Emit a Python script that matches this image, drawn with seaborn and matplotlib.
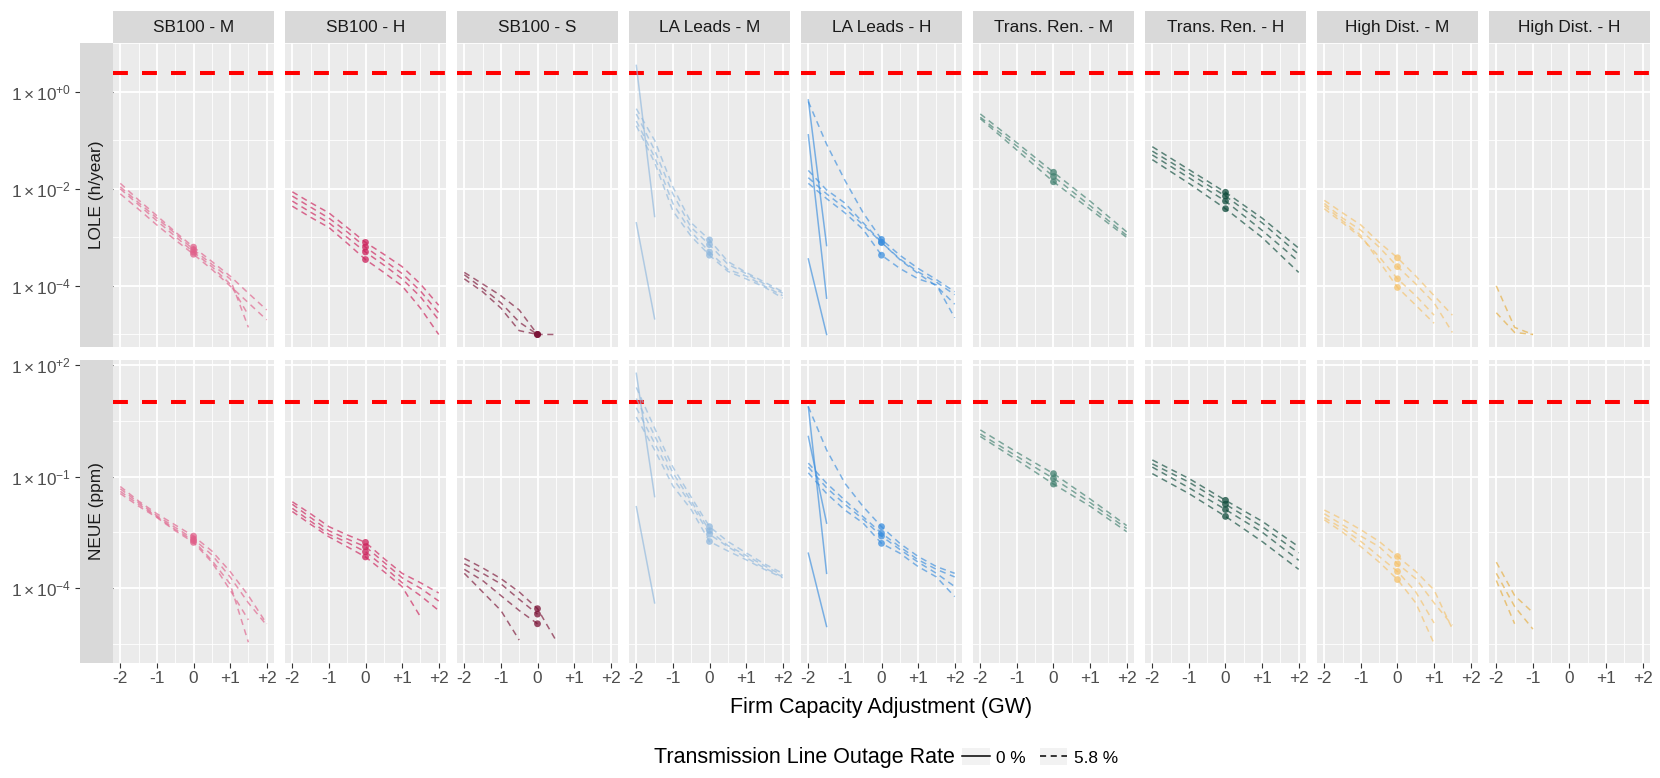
import numpy as np
import pandas as pd
import seaborn as sns
import matplotlib
matplotlib.use("Agg")
import matplotlib.pyplot as plt
from matplotlib.patches import Rectangle
from matplotlib.lines import Line2D
from matplotlib.legend_handler import HandlerLine2D
from matplotlib.ticker import NullFormatter

# facets
SCENARIOS = ["SB100 - M", "SB100 - H", "SB100 - S", "LA Leads - M", "LA Leads - H",
             "Trans. Ren. - M", "Trans. Ren. - H", "High Dist. - M", "High Dist. - H"]
COLORS = ["#e0608a", "#cc1f5a", "#7a1235", "#8fb8de", "#3b8ede",
          "#3f7f6e", "#0d4a3a", "#f5c26b", "#e6ac3c"]
METRICS = ["LOLE (h/year)", "NEUE (ppm)"]
THRESHOLDS = [2.4, 10]

# firm capacity adjustment steps (GW)
X_HALF = [-2, -1.5, -1, -0.5, 0, 0.5, 1, 1.5, 2]
X_UNIT = [-2, -1, 0, 1, 2]
X_EDGE = [-2, -1.5]

# ---- LOLE (h/year), 5.8 % outage rate ----
SB100_M_LOLE = [
    [1.3e-2, 5.9e-3, 2.8e-3, 1.3e-3, 6.3e-4, 3.2e-4, 1.6e-4, 7.1e-5, 3.2e-5],
    [1.0e-2, 4.7e-3, 2.2e-3, 1.05e-3, 5.0e-4, 2.5e-4, 1.1e-4, 2.5e-5, None],
    [1.1e-2, 5.2e-3, 2.5e-3, 1.2e-3, 5.6e-4, 2.8e-4, 1.4e-4, 1.4e-5, None],
    [7.9e-3, 3.8e-3, 1.8e-3, 8.9e-4, 4.5e-4, 2.2e-4, 1.0e-4, 4.5e-5, 2.0e-5],
]
SB100_H_LOLE = [
    [8.7e-3, 5.2e-3, 3.2e-3, 1.6e-3, 7.9e-4, 4.5e-4, 2.5e-4, 1.1e-4, 4.0e-5],
    [7.1e-3, 4.2e-3, 2.5e-3, 1.3e-3, 6.3e-4, 3.4e-4, 1.8e-4, 7.9e-5, 2.8e-5],
    [5.6e-3, 3.3e-3, 2.0e-3, 1.0e-3, 5.0e-4, 2.7e-4, 1.4e-4, 6.0e-5, 2.0e-5],
    [4.4e-3, 2.6e-3, 1.6e-3, 7.6e-4, 3.5e-4, 1.9e-4, 1.0e-4, 3.5e-5, 1.0e-5],
]
SB100_S_LOLE = [
    [1.9e-4, 1.1e-4, 6.3e-5, 3.2e-5, 1.0e-5, 1.0e-5, None, None, None],
    [1.7e-4, 8.9e-5, 4.5e-5, 1.8e-5, 1.0e-5, None, None, None, None],
    [1.4e-4, 7.6e-5, 3.5e-5, 1.2e-5, 1.0e-5, None, None, None, None],
]
LA_LEADS_M_LOLE = [
    [0.45, 0.10, 1.1e-2, 2.0e-3, 8.9e-4, 3.2e-4, 1.9e-4, 1.2e-4, 7.6e-5],
    [0.35, 6.3e-2, 7.9e-3, 1.6e-3, 7.1e-4, 2.8e-4, 1.8e-4, 1.1e-4, 7.1e-5],
    [0.25, 4.5e-2, 5.0e-3, 1.3e-3, 5.0e-4, 2.2e-4, 1.6e-4, 1.0e-4, 6.3e-5],
    [0.20, 3.5e-2, 3.5e-3, 1.05e-3, 4.3e-4, 2.0e-4, 1.4e-4, 9.5e-5, 5.6e-5],
]
LA_LEADS_H_LOLE = [
    [0.63, 8.3e-2, 1.5e-2, 3.2e-3, 9.1e-4, 4.3e-4, 2.3e-4, 1.35e-4, 7.6e-5],
    [2.4e-2, 9.5e-3, 5.1e-3, 2.0e-3, 7.9e-4, 3.6e-4, 1.95e-4, 1.2e-4, 6.6e-5],
    [1.7e-2, 7.9e-3, 4.0e-3, 1.8e-3, 7.9e-4, 3.5e-4, 1.8e-4, 1.0e-4, 4.2e-5],
    [1.3e-2, 6.3e-3, 3.2e-3, 1.45e-3, 4.3e-4, 2.3e-4, 1.4e-4, 1.05e-4, 2.2e-5],
]
TRANS_REN_M_LOLE = [
    [0.35, 8.9e-2, 2.2e-2, 5.6e-3, 1.3e-3],
    [0.30, 7.6e-2, 1.8e-2, 4.5e-3, 1.1e-3],
    [0.28, 6.3e-2, 1.4e-2, 3.8e-3, 1.0e-3],
]
TRANS_REN_H_LOLE = [
    [7.4e-2, 2.5e-2, 8.5e-3, 2.5e-3, 6.0e-4],
    [6.0e-2, 2.1e-2, 7.1e-3, 2.0e-3, 4.5e-4],
    [5.0e-2, 1.7e-2, 5.6e-3, 1.4e-3, 3.2e-4],
    [4.0e-2, 1.3e-2, 3.9e-3, 1.0e-3, 1.9e-4],
]
HIGH_DIST_M_LOLE = [
    [5.8e-3, 3.2e-3, 1.8e-3, 7.9e-4, 3.8e-4, 1.6e-4, 6.3e-5, 2.5e-5, None],
    [5.0e-3, 2.5e-3, 1.4e-3, 6.3e-4, 2.5e-4, 1.1e-4, 4.5e-5, 1.1e-5, None],
    [3.9e-3, 2.0e-3, 1.0e-3, 4.0e-4, 1.4e-4, 6.3e-5, 2.5e-5, None, None],
    [4.5e-3, 2.2e-3, 1.1e-3, 3.2e-4, 9.3e-5, 4.0e-5, 1.7e-5, None, None],
]
HIGH_DIST_H_LOLE = [
    [1.0e-4, 1.4e-5, 1.0e-5, None, None, None, None, None, None],
    [2.8e-5, 1.1e-5, 1.0e-5, None, None, None, None, None, None],
]

# ---- NEUE (ppm), 5.8 % outage rate ----
SB100_M_NEUE = [
    [5.4e-2, 2.2e-2, 1.0e-2, 5.0e-3, 2.5e-3, 1.0e-3, 2.8e-4, 6.3e-5, 1.1e-5],
    [4.7e-2, 2.0e-2, 8.9e-3, 4.3e-3, 2.1e-3, 7.9e-4, 2.0e-4, 4.0e-5, 1.0e-5],
    [4.0e-2, 1.8e-2, 8.3e-3, 3.8e-3, 1.9e-3, 5.6e-4, 1.3e-4, 3.5e-6, None],
    [3.5e-2, 1.6e-2, 7.9e-3, 3.5e-3, 1.7e-3, 5.0e-4, 8.9e-5, 1.4e-5, None],
]
SB100_H_NEUE = [
    [2.1e-2, 1.0e-2, 4.5e-3, 2.7e-3, 1.7e-3, 6.3e-4, 2.5e-4, 1.4e-4, 7.4e-5],
    [1.8e-2, 7.9e-3, 3.5e-3, 2.1e-3, 1.3e-3, 5.0e-4, 1.9e-4, 1.0e-4, 4.5e-5],
    [1.4e-2, 6.3e-3, 2.8e-3, 1.7e-3, 9.5e-4, 3.8e-4, 1.4e-4, 6.3e-5, 2.5e-5],
    [1.15e-2, 5.2e-3, 2.4e-3, 1.3e-3, 6.9e-4, 2.8e-4, 1.1e-4, 1.7e-5, None],
]
SB100_S_NEUE = [
    [6.3e-4, 3.5e-4, 1.8e-4, 7.9e-5, 2.8e-5, 4.0e-6, None, None, None],
    [4.5e-4, 2.5e-4, 1.3e-4, 5.0e-5, 2.0e-5, None, None, None, None],
    [3.2e-4, 1.6e-4, 6.3e-5, 2.5e-5, 1.1e-5, None, None, None, None],
    [2.5e-4, 7.9e-5, 2.5e-5, 4.0e-6, None, None, None, None, None],
]
LA_LEADS_M_NEUE = [
    [25, 2.0, 0.18, 2.8e-2, 4.5e-3, 1.8e-3, 8.9e-4, 4.5e-4, 2.5e-4],
    [12.6, 1.26, 0.126, 2.2e-2, 3.5e-3, 1.4e-3, 7.6e-4, 4.0e-4, 2.2e-4],
    [7.1, 0.79, 8.9e-2, 1.8e-2, 2.8e-3, 1.3e-3, 6.6e-4, 3.5e-4, 2.0e-4],
    [4.0, 0.52, 5.6e-2, 1.3e-2, 1.8e-3, 1.0e-3, 5.8e-4, 3.2e-4, 1.9e-4],
]
LA_LEADS_H_NEUE = [
    [7.6, 0.52, 6.6e-2, 1.55e-2, 4.5e-3, 1.6e-3, 7.1e-4, 3.8e-4, 2.5e-4],
    [0.18, 5.0e-2, 1.8e-2, 7.1e-3, 2.5e-3, 1.1e-3, 5.0e-4, 2.5e-4, 1.1e-4],
    [0.23, 6.6e-2, 2.3e-2, 8.3e-3, 3.0e-3, 1.3e-3, 5.8e-4, 3.2e-4, 2.0e-4],
    [0.126, 3.5e-2, 1.26e-2, 5.6e-3, 1.6e-3, 8.7e-4, 3.8e-4, 2.0e-4, 5.9e-5],
]
TRANS_REN_M_NEUE = [
    [1.8, 0.45, 0.12, 2.5e-2, 4.8e-3],
    [1.4, 0.35, 8.9e-2, 2.0e-2, 4.0e-3],
    [1.2, 0.28, 6.3e-2, 1.6e-2, 3.3e-3],
]
TRANS_REN_H_NEUE = [
    [0.28, 8.9e-2, 2.3e-2, 6.3e-3, 1.3e-3],
    [0.22, 7.1e-2, 1.8e-2, 4.5e-3, 8.9e-4],
    [0.18, 5.0e-2, 1.3e-2, 3.2e-3, 5.6e-4],
    [0.12, 3.5e-2, 8.5e-3, 1.8e-3, 3.2e-4],
]
HIGH_DIST_M_NEUE = [
    [1.26e-2, 7.1e-3, 3.7e-3, 1.8e-3, 7.1e-4, 2.8e-4, 8.9e-5, 7.9e-6, None],
    [1.0e-2, 5.0e-3, 2.5e-3, 1.3e-3, 4.5e-4, 1.8e-4, 4.0e-5, 1.0e-5, None],
    [7.9e-3, 4.0e-3, 1.8e-3, 7.1e-4, 2.8e-4, 7.9e-5, 1.15e-5, None, None],
    [6.9e-3, 3.2e-3, 1.3e-3, 5.0e-4, 1.7e-4, 4.0e-5, 3.2e-6, None, None],
]
HIGH_DIST_H_NEUE = [
    [5.0e-4, 6.3e-5, 2.2e-5, None, None, None, None, None, None],
    [2.5e-4, 3.2e-5, 7.9e-6, None, None, None, None, None, None],
    [1.6e-4, 1.1e-5, None, None, None, None, None, None, None],
]

# ---- 0 % outage rate (only LA Leads sweeps) ----
LA_LEADS_M_LOLE_0 = [[3.5, 2.7e-3], [2.0e-3, 2.1e-5]]
LA_LEADS_H_LOLE_0 = [[0.68, 6.8e-4], [0.13, 5.6e-5], [3.6e-4, 1.0e-5]]
LA_LEADS_M_NEUE_0 = [[60, 2.9e-2], [1.55e-2, 4.0e-5]]
LA_LEADS_H_NEUE_0 = [[7.6, 2.5e-4], [1.2, 5.6e-3], [8.7e-4, 9.3e-6]]

SWEEPS = [
    ("SB100 - M", 0, "5.8 %", X_HALF, SB100_M_LOLE), ("SB100 - M", 1, "5.8 %", X_HALF, SB100_M_NEUE),
    ("SB100 - H", 0, "5.8 %", X_HALF, SB100_H_LOLE), ("SB100 - H", 1, "5.8 %", X_HALF, SB100_H_NEUE),
    ("SB100 - S", 0, "5.8 %", X_HALF, SB100_S_LOLE), ("SB100 - S", 1, "5.8 %", X_HALF, SB100_S_NEUE),
    ("LA Leads - M", 0, "5.8 %", X_HALF, LA_LEADS_M_LOLE), ("LA Leads - M", 1, "5.8 %", X_HALF, LA_LEADS_M_NEUE),
    ("LA Leads - H", 0, "5.8 %", X_HALF, LA_LEADS_H_LOLE), ("LA Leads - H", 1, "5.8 %", X_HALF, LA_LEADS_H_NEUE),
    ("Trans. Ren. - M", 0, "5.8 %", X_UNIT, TRANS_REN_M_LOLE), ("Trans. Ren. - M", 1, "5.8 %", X_UNIT, TRANS_REN_M_NEUE),
    ("Trans. Ren. - H", 0, "5.8 %", X_UNIT, TRANS_REN_H_LOLE), ("Trans. Ren. - H", 1, "5.8 %", X_UNIT, TRANS_REN_H_NEUE),
    ("High Dist. - M", 0, "5.8 %", X_HALF, HIGH_DIST_M_LOLE), ("High Dist. - M", 1, "5.8 %", X_HALF, HIGH_DIST_M_NEUE),
    ("High Dist. - H", 0, "5.8 %", X_HALF, HIGH_DIST_H_LOLE), ("High Dist. - H", 1, "5.8 %", X_HALF, HIGH_DIST_H_NEUE),
    ("LA Leads - M", 0, "0 %", X_EDGE, LA_LEADS_M_LOLE_0), ("LA Leads - M", 1, "0 %", X_EDGE, LA_LEADS_M_NEUE_0),
    ("LA Leads - H", 0, "0 %", X_EDGE, LA_LEADS_H_LOLE_0), ("LA Leads - H", 1, "0 %", X_EDGE, LA_LEADS_H_NEUE_0),
]

rows = []
for scen, m, rate, xs, lines in SWEEPS:
    for i, vals in enumerate(lines):
        for x, v in zip(xs, vals):
            if v is not None:
                rows.append(dict(scenario=scen, metric=m, outage=rate, line=f"{rate}-{i}", gw=x, value=v))
df = pd.DataFrame(rows)

# plotting parameters
plt.rcParams["font.family"] = ["Liberation Sans", "DejaVu Sans"]
plt.rcParams["mathtext.fontset"] = "custom"
plt.rcParams["mathtext.rm"] = "Liberation Sans"
plt.rcParams["mathtext.it"] = "Liberation Sans:italic"

W, H = 1660, 778
fig, axes = plt.subplots(2, 9, figsize=(W / 100, H / 100), dpi=100)
fig.subplots_adjust(left=113 / W, right=1650 / W, top=1 - 43.3 / H, bottom=1 - 663.3 / H,
                    wspace=0.0683, hspace=0.041)

YLIMS = [(5.5e-6, 7.6), (9.5e-7, 141)]
YMAJOR = [[1, 1e-2, 1e-4], [1e2, 1e-1, 1e-4]]
YMINOR = [[10, 1e-1, 1e-3, 1e-5], [10 ** 0.5, 10 ** -2.5, 10 ** -5.5]]
YLABELS = [[r"$\mathregular{1\times10^{+0}}$", r"$\mathregular{1\times10^{-2}}$", r"$\mathregular{1\times10^{-4}}$"],
           [r"$\mathregular{1\times10^{+2}}$", r"$\mathregular{1\times10^{-1}}$", r"$\mathregular{1\times10^{-4}}$"]]
STRIP_BG = "#d9d9d9"

for r in range(2):
    for c, scen in enumerate(SCENARIOS):
        ax = axes[r, c]
        ax.set_facecolor("#ebebeb")
        ax.set_axisbelow(True)
        ax.set_yscale("log")
        sub = df[(df.scenario == scen) & (df.metric == r)]
        ax.axhline(THRESHOLDS[r], color="#ff0000", lw=2.9, ls=(0, (3.7, 3.5)), zorder=1.5)
        sns.lineplot(data=sub, x="gw", y="value", units="line", estimator=None, style="outage",
                     dashes={"0 %": "", "5.8 %": (4, 3)}, color=COLORS[c], alpha=0.65, lw=1.1,
                     legend=False, ax=ax)
        pts = sub[sub.gw == 0]
        if len(pts):
            sns.scatterplot(data=pts, x="gw", y="value", color=COLORS[c], s=24, alpha=0.75,
                            edgecolor="none", legend=False, ax=ax)
        ax.set_xlim(-2.2, 2.2)
        ax.set_ylim(*YLIMS[r])
        ax.set_xticks([-2, -1, 0, 1, 2])
        ax.set_xticks([-1.5, -0.5, 0.5, 1.5], minor=True)
        ax.set_yticks(YMAJOR[r])
        ax.set_yticks(YMINOR[r], minor=True)
        ax.yaxis.set_minor_formatter(NullFormatter())
        ax.grid(which="major", color="white", lw=1.3)
        ax.grid(which="minor", color="white", lw=0.6)
        for s in ax.spines.values():
            s.set_visible(False)
        ax.set_xlabel("")
        ax.set_ylabel("")
        ax.tick_params(which="minor", length=0)
        if r == 1:
            ax.set_xticklabels(["-2", "-1", "0", "+1", "+2"])
            ax.tick_params(axis="x", which="major", length=3.5, width=0.8, color="#333333",
                           labelsize=12.4, labelcolor="#4d4d4d", pad=2)
        else:
            ax.tick_params(axis="x", which="major", length=0, labelbottom=False)
        ph = ax.bbox.height
        pw = ax.bbox.width
        if c == 0:
            ax.set_yticklabels(YLABELS[r])
            ax.tick_params(axis="y", which="major", length=27.5, width=0.8, color="#333333",
                           labelsize=12.4, labelcolor="#4d4d4d", pad=2.5)
            sw = 33.5 / pw
            ax.add_patch(Rectangle((-sw, 0), sw, 1, transform=ax.transAxes, facecolor=STRIP_BG,
                                   edgecolor="none", clip_on=False, zorder=5))
            ax.text(-sw / 2, 0.5, METRICS[r], transform=ax.transAxes, rotation=90, ha="center",
                    va="center", fontsize=12.4, color="#1a1a1a", zorder=6)
        else:
            ax.tick_params(axis="y", which="major", length=0, labelleft=False)
        if r == 0:
            sh = 32 / ph
            ax.add_patch(Rectangle((0, 1), 1, sh, transform=ax.transAxes, facecolor=STRIP_BG,
                                   edgecolor="none", clip_on=False, zorder=5))
            ax.text(0.5, 1 + sh / 2, scen, transform=ax.transAxes, ha="center", va="center",
                    fontsize=12.4, color="#1a1a1a", zorder=6)

mid = (113 + 1650) / 2 / W
fig.text(mid, 1 - 707 / H, "Firm Capacity Adjustment (GW)", ha="center", va="center", fontsize=15.5)


class KeyHandler(HandlerLine2D):
    def create_artists(self, legend, orig_handle, xdescent, ydescent, width, height, fontsize, trans):
        bg = Rectangle((-xdescent, -ydescent), width, height, facecolor="#f2f2f2",
                       edgecolor="none", transform=trans)
        return [bg] + super().create_artists(legend, orig_handle, xdescent, ydescent,
                                             width, height, fontsize, trans)


handles = [Line2D([], [], color="black", lw=1.1, ls="-"),
           Line2D([], [], color="black", lw=1.1, ls=(0, (4, 3)))]
ly = 1 - 757 / H
fig.text(955 / W, ly, "Transmission Line Outage Rate", ha="right", va="center", fontsize=15.5)
fig.legend(handles, ["0 %", "5.8 %"], loc="center left", bbox_to_anchor=(962 / W, ly), ncol=2,
           frameon=False, fontsize=12.4, handlelength=1.6, handleheight=1.15, handletextpad=0.4,
           columnspacing=0.8, borderaxespad=0, borderpad=0,
           handler_map={Line2D: KeyHandler()})

fig.savefig("out.png", dpi=100)
